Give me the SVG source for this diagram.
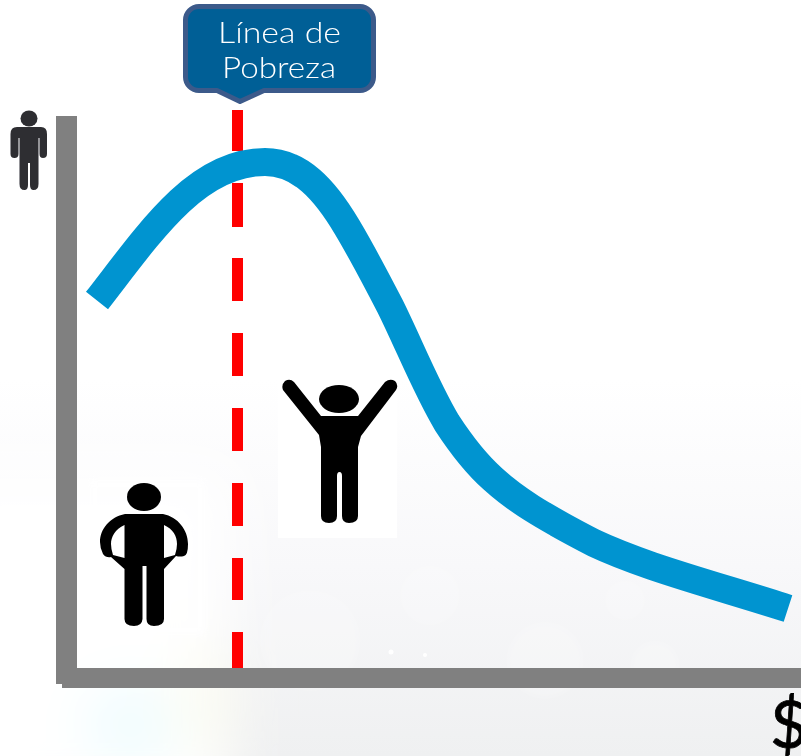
<svg xmlns="http://www.w3.org/2000/svg" width="801" height="756" viewBox="0 0 801 756">
<style>
.axis{fill:#808080}
.dash{fill:#ff0000}
.lbl{font-family:Lato,"Liberation Sans",sans-serif;font-weight:300;font-size:29px;fill:#ffffff;text-anchor:middle}
.bokeh{fill:#ffffff;opacity:.2}
</style>
<defs>
<linearGradient id="bgV" x1="0" y1="0" x2="0" y2="1">
<stop offset="0" stop-color="#fff"/><stop offset=".5" stop-color="#fff"/><stop offset=".75" stop-color="#f8f8fa"/><stop offset="1" stop-color="#eff0f1"/>
</linearGradient>
<filter id="soft" x="-10%" y="-10%" width="120%" height="120%"><feGaussianBlur stdDeviation=".6"/></filter>
<filter id="glow" x="-20%" y="-20%" width="140%" height="140%"><feGaussianBlur stdDeviation="3"/></filter>
<filter id="wide" x="-50%" y="-50%" width="200%" height="200%"><feGaussianBlur stdDeviation="28"/></filter>
</defs>
<g id="background">
<rect width="801" height="756" fill="url(#bgV)"/>
<g filter="url(#wide)">
<rect x="-60" y="470" width="290" height="340" fill="#ffffff"/>
<ellipse cx="130" cy="725" rx="45" ry="40" fill="#effcfe"/>
<ellipse cx="205" cy="700" rx="28" ry="60" fill="#fdfdf3"/>
</g>
<g filter="url(#glow)">
<circle class="bokeh" cx="310" cy="640" r="50"/>
<circle class="bokeh" cx="430" cy="595" r="30"/>
<circle class="bokeh" cx="545" cy="660" r="38"/>
<circle class="bokeh" cx="655" cy="665" r="24"/>
<circle class="bokeh" cx="625" cy="600" r="20"/>
</g>
<circle cx="391" cy="652" r="2.500" fill="#fff"/><circle cx="425" cy="655" r="2" fill="#fff"/>
<rect x="90" y="480" width="115" height="155" fill="#fff" opacity=".8" filter="url(#glow)"/>
<rect x="278" y="378" width="119" height="160" fill="#fff"/>
</g>
<g id="axes">
<rect class="axis" x="56" y="116" width="21" height="568"/>
<rect class="axis" x="62" y="668" width="739" height="20"/>
</g>
<g id="connectors">
<rect class="dash" x="232" y="110" width="11" height="41"/>
<rect class="dash" x="232" y="183" width="11" height="44"/>
<rect class="dash" x="232" y="258" width="11" height="43"/>
<rect class="dash" x="232" y="333" width="11" height="43"/>
<rect class="dash" x="232" y="408" width="11" height="43"/>
<rect class="dash" x="232" y="483" width="11" height="43"/>
<rect class="dash" x="232" y="558" width="11" height="42"/>
<rect class="dash" x="232" y="632" width="11" height="36"/>
</g>
<g id="curve">
<path d="M97,300.500C124,266 150,229 180,201C208,175 236,162 265,162C300,162 325,190 347,227C362,252 376,279 390,306C408,342 426,388 447,423C462,446 475,463 493,479C515,499 540,515 594,543C613,552 632,559 652,566C696,581 743,594 788,608.500" fill="none" stroke="#0094d0" stroke-width="28"/>
</g>
<g id="callout">
<path d="M199,6.500H360A13.500,13.500 0 0 1 373.500,20V77A13.500,13.500 0 0 1 360,90.500H264L240,101.500L217,90.500H199A13.500,13.500 0 0 1 185.500,77V20A13.500,13.500 0 0 1 199,6.500Z" fill="#005f96" stroke="#3c5a8a" stroke-width="5" stroke-linejoin="round"/>
<text class="lbl" x="279.500" y="43" textLength="123" lengthAdjust="spacingAndGlyphs">Línea de</text>
<text class="lbl" x="279" y="78" textLength="114" lengthAdjust="spacingAndGlyphs">Pobreza</text>
</g>
<g id="person-small" fill="#2f2f33" filter="url(#soft)">
<ellipse cx="29" cy="118.500" rx="8.500" ry="8"/>
<path d="M17,127H41Q47,127 47,134V154Q47,158 43,158Q39.500,158 39.500,154V138H38.500V184Q38.500,190 33.500,190Q30,190 30,185V163H28V185Q28,190 24.500,190Q19.500,190 19.500,184V138H18.500V154Q18.500,158 14.500,158Q10.500,158 10.500,154V134Q10.500,127 17,127Z"/>
</g>
<g id="person-raised" fill="#000" filter="url(#soft)">
<ellipse cx="339" cy="399" rx="20" ry="14"/>
<path d="M321,416H358L385,382Q390,378 395,381Q399,385 396,390L361,436L358,447V516Q358,523 349,523Q342,523 342,516V476Q342,472 339.500,472Q337,472 337,476V516Q337,523 329,523Q321,523 321,516V447L319,435L283,390Q281,385 285,381Q290,378 294,382Z"/>
</g>
<g id="person-empty" fill="#000" filter="url(#soft)">
<ellipse cx="144" cy="497" rx="17" ry="14"/>
<path fill-rule="evenodd" d="M125,514H163C178,517 188,530 188,544Q188,555 184,556Q180,557 176,556L164,569V619Q164,626 154,626Q146.500,626 146.500,619V566H142.500V619Q142,626 134,626Q124.500,626 124.500,619V569L111,557Q106,558 103,554Q100,548 100,542C100,529 110,517 125,514ZM124.500,525C115,529 111,537 111,544Q111,549 113,555L124.500,558ZM164,525V558L175,555Q177,549 177,544C177,536 173,529 164,525Z"/>
</g>
<g id="currency">
<text x="770" y="748" font-family="Lato,'Liberation Sans',sans-serif" font-size="66" fill="#000" stroke="#000" stroke-width=".8">$</text>
</g>
</svg>
